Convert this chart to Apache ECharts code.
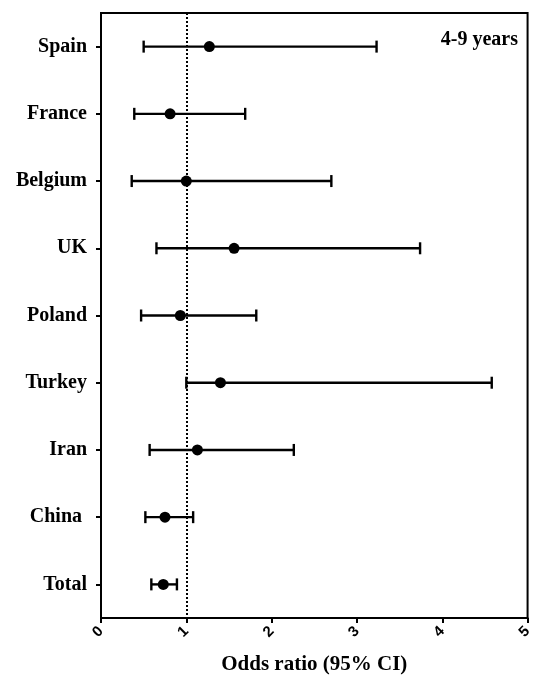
<!DOCTYPE html>
<html>
<head>
<meta charset="utf-8">
<script src="https://cdn.jsdelivr.net/npm/echarts@6/dist/echarts.min.js"></script>
<style>
  html, body { margin: 0; padding: 0; background: #fff; }
  #chart { width: 535px; height: 680px; }
</style>
</head>
<body>
<div id="chart"></div>
<script>
// Odds ratios with 95% confidence intervals, ages 4-9
const countries = ['Spain', 'France', 'Belgium', 'UK', 'Poland', 'Turkey', 'Iran', 'China ', 'Total'];
const oddsRatio = [1.27, 0.81, 1.00, 1.56, 0.93, 1.40, 1.13, 0.75, 0.73];
const ciLower   = [0.50, 0.39, 0.36, 0.65, 0.47, 1.00, 0.57, 0.52, 0.59];
const ciUpper   = [3.23, 1.69, 2.70, 3.74, 1.82, 4.58, 2.26, 1.08, 0.89];
const xTicks = [0, 1, 2, 3, 4, 5];

const serif = '"Liberation Serif", "Times New Roman", serif';

const chart = echarts.init(document.getElementById('chart'), null, { renderer: 'canvas' });

const intervalData = countries.map((c, i) => [c, ciLower[i], ciUpper[i]]);
const pointData = countries.map((c, i) => [oddsRatio[i], c]);

chart.setOption({
  animation: false,
  backgroundColor: '#fff',
  grid: {
    left: 101, right: 1, top: 13, bottom: 61,
    show: true, borderColor: '#000', borderWidth: 2, backgroundColor: 'transparent'
  },
  xAxis: {
    type: 'value',
    min: xTicks[0], max: xTicks[xTicks.length - 1], interval: 1,
    name: 'Odds ratio (95% CI)',
    nameLocation: 'middle',
    nameGap: 36,
    nameTextStyle: { fontFamily: serif, fontWeight: 'bold', fontSize: 21, color: '#000' },
    axisLine: { show: true, lineStyle: { color: '#000', width: 2 } },
    axisTick: { show: true, length: 5, lineStyle: { color: '#000', width: 2 } },
    axisLabel: {
      rotate: 45, margin: 11, color: '#000',
      fontFamily: '"Liberation Sans", Arial, sans-serif', fontWeight: 'bold', fontSize: 15
    },
    splitLine: { show: false }
  },
  yAxis: {
    type: 'category',
    data: countries,
    inverse: true,
    axisLine: { show: true, lineStyle: { color: '#000', width: 2 } },
    axisTick: { show: true, length: 5, alignWithLabel: true, lineStyle: { color: '#000', width: 2 } },
    axisLabel: { margin: 14, color: '#000', fontFamily: serif, fontWeight: 'bold', fontSize: 20 },
    splitLine: { show: false }
  },
  graphic: [{
    type: 'text',
    right: 17, top: 30,
    style: { text: '4-9 years', font: 'bold 20px ' + serif, fill: '#000' }
  }],
  series: [
    {
      type: 'custom',
      data: intervalData,
      encode: { y: 0, x: [1, 2] },
      z: 3,
      renderItem: function (params, api) {
        const cat = api.value(0);
        const lo = api.coord([api.value(1), cat]);
        const hi = api.coord([api.value(2), cat]);
        const cap = 6;
        const style = { stroke: '#000', lineWidth: 2.4 };
        return {
          type: 'group',
          children: [
            { type: 'line', shape: { x1: lo[0], y1: lo[1], x2: hi[0], y2: hi[1] }, style: style },
            { type: 'line', shape: { x1: lo[0], y1: lo[1] - cap, x2: lo[0], y2: lo[1] + cap }, style: style },
            { type: 'line', shape: { x1: hi[0], y1: hi[1] - cap, x2: hi[0], y2: hi[1] + cap }, style: style }
          ]
        };
      },
      markLine: {
        silent: true,
        symbol: 'none',
        label: { show: false },
        lineStyle: { color: '#000', type: [2, 2], width: 2 },
        data: [{ xAxis: 1 }]
      }
    },
    {
      type: 'scatter',
      data: pointData,
      symbol: 'circle',
      symbolSize: 11,
      z: 4,
      itemStyle: { color: '#000', opacity: 1 }
    }
  ]
});
</script>
</body>
</html>
